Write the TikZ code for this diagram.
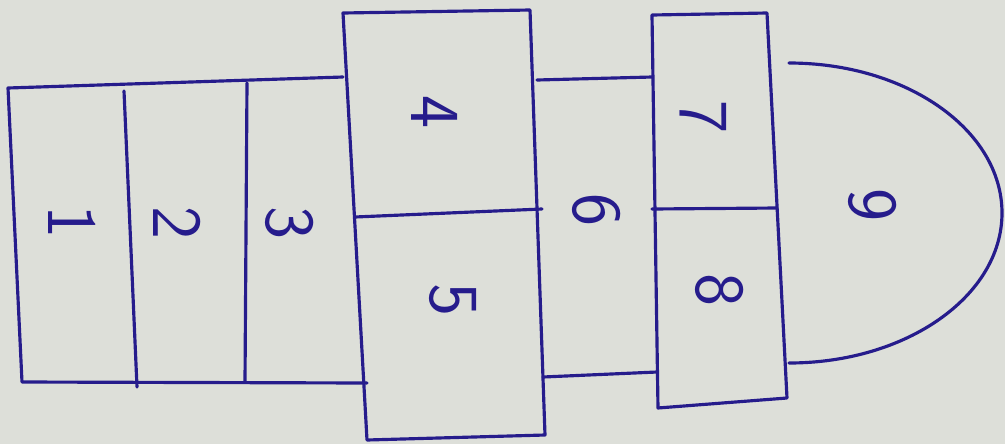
\documentclass[tikz,border=0pt]{standalone}
\definecolor{ink}{RGB}{38,28,140}
\definecolor{paper}{RGB}{221,223,217}
\tikzset{
  pen/.style={ink,line width=1.8pt,line join=round,line cap=round},
  digit/.style={ink,rotate=-90,font=\sffamily\fontsize{40}{40}\selectfont}
}
\begin{document}
\begin{tikzpicture}[x=0.02cm,y=-0.02cm]
        \fill[paper] (0,0) rectangle (1005,444);
        \draw[pen] (343,77) -- (8,88) -- (22,382) -- (367,383);
        \draw[pen] (124,91) -- (137,387);
        \draw[pen] (247,83) -- (245,382);
        \draw[pen] (343,13) -- (530,10) -- (545,435) -- (367,440) -- cycle;
        \draw[pen] (355,217) -- (542,209);
        \draw[pen] (537,80) -- (652,77);
        \draw[pen] (543,377) -- (657,372);
        \draw[pen] (652,15) -- (767,13) -- (787,398) -- (658,408) -- cycle;
        \draw[pen] (652,209) -- (777,208);
        \draw[pen] (789,363) arc[start angle=90,end angle=-90,x radius=213,y radius=150];
        \node[digit] (n1) at (72,222) {1};
        \node[digit] (n2) at (177,223) {2};
        \node[digit] (n3) at (290,223) {3};
        \node[digit] (n4) at (435,112) {4};
        \node[digit] (n5) at (453,300) {5};
        \node[digit] (n6) at (597,210) {6};
        \node[digit] (n7) at (703,117) {7};
        \node[digit] (n8) at (720,290) {8};
        \node[digit] (n9) at (873,205) {9};
    \end{tikzpicture}
\end{document}
